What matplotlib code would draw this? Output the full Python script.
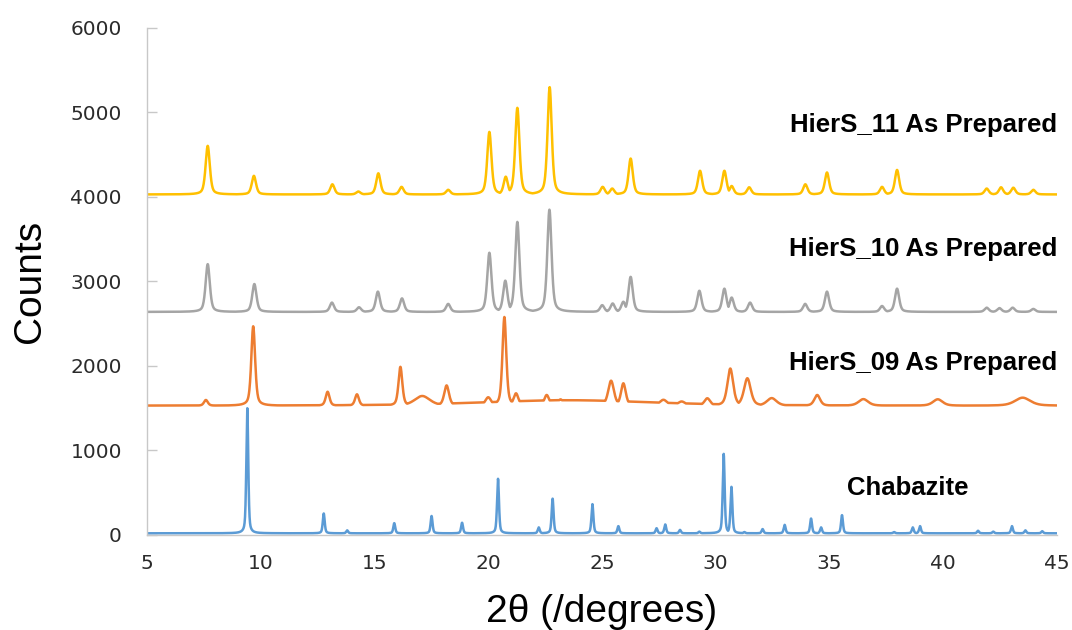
import numpy as np
import matplotlib
matplotlib.use("Agg")
import matplotlib.pyplot as plt

# Peak tables read per pattern: 2-theta position, apex counts, FWHM (degrees)
chab_base = 20
chab_pos = [9.41, 12.77, 13.80, 15.87, 17.51, 18.85, 20.43, 22.22, 22.83, 24.58,
            25.72, 27.40, 27.78, 28.43, 29.28, 30.35, 30.69, 31.26, 32.06, 33.03,
            34.19, 34.63, 35.55, 37.84, 38.66, 38.98, 41.53, 42.20, 43.02, 43.61, 44.35]
chab_top = [1500, 255, 55, 140, 225, 145, 665, 90, 430, 365,
            105, 80, 125, 60, 40, 960, 570, 35, 70, 120,
            195, 90, 235, 35, 90, 105, 50, 40, 105, 55, 45]

s09_base = 1530
s09_pos = [23.5, 7.59, 9.67, 12.94, 14.23, 16.14, 17.10, 18.17, 20.00, 20.71, 21.22,
           22.57, 23.18, 24.03, 25.40, 25.94, 27.70, 28.50, 29.63, 30.64, 31.39,
           32.46, 34.46, 36.49, 39.76, 43.49]
s09_top = [1595, 1598, 2470, 1695, 1665, 1990, 1645, 1770, 1630, 2580, 1677,
           1657, 1605, 1575, 1826, 1795, 1600, 1580, 1618, 1970, 1855,
           1620, 1657, 1608, 1606, 1625]
s09_fwhm = [9.0, 0.2, 0.2, 0.2, 0.2, 0.2, 0.8, 0.25, 0.3, 0.2, 0.25,
            0.25, 0.25, 0.6, 0.3, 0.25, 0.4, 0.4, 0.3, 0.3, 0.35,
            0.5, 0.3, 0.5, 0.5, 0.8]

s10_base = 2640
s10_pos = [7.67, 9.72, 13.13, 14.32, 15.15, 16.21, 18.24, 20.05, 20.75, 21.28,
           22.69, 25.01, 25.47, 25.94, 26.26, 29.28, 30.38, 30.70, 31.51, 33.93,
           34.89, 37.31, 37.97, 41.91, 42.47, 43.05, 43.96]
s10_top = [3205, 2970, 2750, 2695, 2880, 2800, 2735, 3340, 3010, 3705,
           3850, 2720, 2740, 2760, 3055, 2890, 2915, 2810, 2750, 2735,
           2880, 2710, 2915, 2690, 2685, 2690, 2675]

s11_base = 4030
s11_pos = [7.67, 9.70, 13.15, 14.29, 15.17, 16.19, 18.24, 20.05, 20.77, 21.28,
           22.70, 25.03, 25.45, 26.26, 29.31, 30.38, 30.70, 31.47, 33.94, 34.89,
           37.31, 37.97, 41.91, 42.54, 43.08, 43.96]
s11_top = [4605, 4250, 4150, 4065, 4280, 4120, 4085, 4770, 4240, 5055,
           5300, 4120, 4100, 4455, 4310, 4310, 4130, 4115, 4150, 4290,
           4120, 4320, 4100, 4115, 4110, 4085]

labels = ["Chabazite", "HierS_09 As Prepared", "HierS_10 As Prepared", "HierS_11 As Prepared"]
colors = ["#5B9BD5", "#ED7D31", "#A5A5A5", "#FFC000"]


def pattern(x, base, pos, top, fwhm):
    """Pseudo-Voigt peaks on a flat background; each peak keeps its apex value."""
    y = np.full_like(x, float(base))
    for c, t, w in zip(pos, top, fwhm):
        d = ((x - c) / (w / 2)) ** 2
        shape = 0.5 / (1 + d) + 0.5 * np.exp(-np.log(2) * d)
        y = np.maximum(y, base + (t - base) * shape)
    return y


two_theta = np.arange(5, 45.001, 0.01)
curves = [
    pattern(two_theta, chab_base, chab_pos, chab_top, [0.10] * len(chab_pos)),
    pattern(two_theta, s09_base, s09_pos, s09_top, s09_fwhm),
    pattern(two_theta, s10_base, s10_pos, s10_top, [0.22] * len(s10_pos)),
    pattern(two_theta, s11_base, s11_pos, s11_top, [0.22] * len(s11_pos)),
]

fig = plt.figure(figsize=(10.72, 6.3), dpi=100)
ax = fig.add_axes([0.1371, 0.1508, 0.8489, 0.8048])

for y, c in zip(curves, colors):
    ax.plot(two_theta, y, color=c, linewidth=1.8, solid_joinstyle="round")

# Pattern names placed beside each trace
label_font = dict(family="Liberation Sans", fontsize=18.5, fontweight="bold", color="black")
ax.text(35.76, 473, labels[0], ha="left", va="baseline", **label_font)
ax.text(45.0, 1953, labels[1], ha="right", va="baseline", **label_font)
ax.text(45.0, 3302, labels[2], ha="right", va="baseline", **label_font)
ax.text(45.0, 4773, labels[3], ha="right", va="baseline", **label_font)

ax.set_xlim(5, 45)
ax.set_ylim(0, 6000)
ax.set_xticks(range(5, 46, 5))
ax.set_yticks(range(0, 6001, 1000))

for side in ("top", "right"):
    ax.spines[side].set_visible(False)
ax.spines["left"].set_color("#C8C8C8")
ax.spines["bottom"].set_color("#C8C8C8")
ax.spines["left"].set_linewidth(1.0)
ax.spines["bottom"].set_linewidth(1.0)

ax.tick_params(axis="y", direction="in", length=7, width=1.0, color="#C8C8C8",
               pad=18, labelsize=14.5, labelcolor="#2B2B2B")
ax.tick_params(axis="x", length=0, pad=14, labelsize=14.5, labelcolor="#2B2B2B")

ax.set_xlabel("2θ (/degrees)", family="Liberation Sans", fontsize=28, labelpad=15)
ax.set_ylabel("Counts", family="Liberation Sans", fontsize=28, labelpad=16)

plt.savefig("out.png", dpi=100)
